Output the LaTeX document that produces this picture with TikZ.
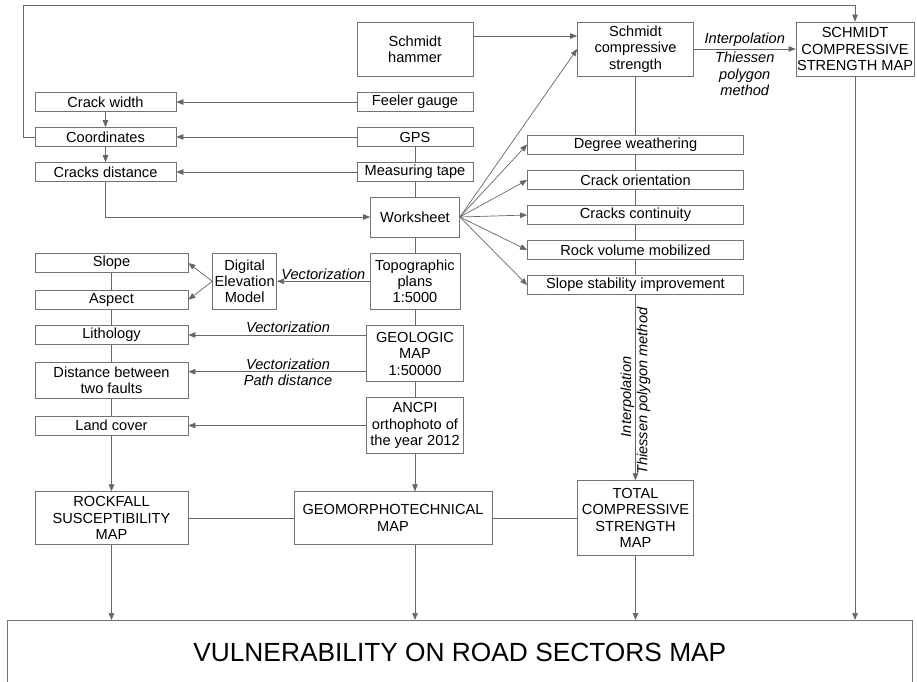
\documentclass[tikz,border=0pt]{standalone}
\usepackage{fontspec}
\setmainfont{Liberation Sans}
\usetikzlibrary{arrows.meta}

\begin{document}
\begin{tikzpicture}[
				x=1pt, y=-1pt,
				font=\fontsize{14.6}{16.3}\selectfont,
				line/.style={draw=black!60, line width=0.7pt},
				arrow/.style={line, -{Triangle[length=7pt, width=5.5pt]}},
				block/.style={draw=black!55, line width=0.7pt, inner sep=1pt, align=center, minimum width=116pt, minimum height=54pt},
				row/.style={block, minimum height=19pt},
				method/.style={font=\fontsize{14.6}{16.3}\selectfont\itshape, inner sep=1pt, align=center},
			]
				\useasboundingbox (0,0) rectangle (917,681);
				\clip (0,0) rectangle (917,681);

				% field measurements
				\node[block] (hammer) at (415,49) {Schmidt\\hammer};
				\node[block] (scs) at (635.5,49) {Schmidt\\compressive\\strength};
				\node[block] (scs map) at (855,49) {SCHMIDT\\COMPRESSIVE\\STRENGTH MAP};
				\node[row] (feeler) at (415,102) {Feeler gauge};
				\node[row] (gps) at (415,137) {GPS};
				\node[row] (tape) at (415,172) {Measuring tape};
				\node[row, minimum width=141pt] (crack width) at (105.5,102) {Crack width};
				\node[row, minimum width=141pt] (coordinates) at (105.5,137) {Coordinates};
				\node[row, minimum width=141pt] (cracks distance) at (105.5,172) {Cracks distance};
				\node[block, minimum width=89pt, minimum height=40pt] (worksheet) at (415,217) {Worksheet};

				\node[row, minimum width=216pt] (weathering) at (635.5,144.5) {Degree weathering};
				\node[row, minimum width=216pt] (orientation) at (635.5,180) {Crack orientation};
				\node[row, minimum width=216pt] (continuity) at (635.5,215) {Cracks continuity};
				\node[row, minimum width=216pt] (volume) at (635.5,250) {Rock volume mobilized};
				\node[row, minimum width=216pt] (stability) at (635.5,285) {Slope stability improvement};

				% maps and plans
				\node[block, minimum width=90pt, minimum height=56pt] (topo) at (415,281.3) {Topographic\\plans\\1:5000};
				\node[block, minimum width=64pt, minimum height=56pt] (dem) at (244.7,281.3) {Digital\\Elevation\\Model};
				\node[block, minimum width=96.6pt, minimum height=56pt] (geologic) at (415,353.7) {GEOLOGIC\\MAP\\1:50000};
				\node[block, minimum width=96.6pt, minimum height=55.6pt] (ancpi) at (415,425.5) {ANCPI\\orthophoto of\\the year 2012};
				\node[row, minimum width=153pt] (slope) at (111.5,263) {Slope};
				\node[row, minimum width=153pt] (aspect) at (111.5,299.7) {Aspect};
				\node[row, minimum width=153pt] (lithology) at (111.5,335) {Lithology};
				\node[block, minimum width=153pt, minimum height=35.6pt] (faults) at (111.5,380.5) {Distance between\\two faults};
				\node[row, minimum width=153pt] (land cover) at (111.5,425.5) {Land cover};

				% results
				\node[block, minimum width=153pt, minimum height=52.6pt] (rockfall) at (111.5,518) {ROCKFALL\\SUSCEPTIBILITY\\MAP};
				\node[block, minimum width=198pt, minimum height=52.6pt] (geomorph) at (393,518) {GEOMORPHOTECHNICAL\\MAP};
				\node[block, minimum width=116pt, minimum height=74.6pt] (total) at (635.5,518) {TOTAL\\COMPRESSIVE\\STRENGTH\\MAP};
				\node[block, anchor=north, minimum width=905pt, minimum height=64pt, font=\fontsize{26.3}{30}\selectfont] (vulnerability) at (459.8,620) {VULNERABILITY ON ROAD SECTORS MAP};

				\draw[arrow] ([yshift=13pt]hammer.east) -- ([yshift=13pt]hammer.east -| scs.west);
				\draw[arrow] (scs.east) -- node[method, above=1pt] {Interpolation} node[method, below=2pt] {Thiessen\\polygon\\method} (scs map.west);
				\draw[arrow] (coordinates.west) -- ++(-11,0) |- ([yshift=16pt]scs map.north) -- (scs map.north);
				\draw[arrow] (feeler) -- (crack width);
				\draw[arrow] (gps) -- (coordinates);
				\draw[arrow] (tape) -- (cracks distance);
				\draw[arrow] (crack width) -- (coordinates);
				\draw[arrow] (coordinates) -- (cracks distance);
				\draw[arrow] (cracks distance.south) |- (worksheet.west);
				\draw[line] (gps) -- (tape);
				\draw[line] (tape) -- (worksheet);

				\draw[arrow] (worksheet.east) -- (scs.west);
				\draw[arrow] (worksheet.east) -- (weathering.west);
				\draw[arrow] (worksheet.east) -- (orientation.west);
				\draw[arrow] (worksheet.east) -- (continuity.west);
				\draw[arrow] (worksheet.east) -- (volume.west);
				\draw[arrow] (worksheet.east) -- (stability.west);
				\draw[line] (scs) -- (weathering);
				\draw[line] (weathering) -- (orientation);
				\draw[line] (orientation) -- (continuity);
				\draw[line] (continuity) -- (volume);
				\draw[line] (volume) -- (stability);
				\draw[arrow] (stability) -- node[method, rotate=90, anchor=south, pos=0.55] {Interpolation} node[method, rotate=90, anchor=north, pos=0.52] {Thiessen polygon method} (total);

				\draw[line] (worksheet) -- (topo);
				\draw[line] (topo) -- (geologic);
				\draw[line] (geologic) -- (ancpi);
				\draw[arrow] (ancpi.south) -- (ancpi.south |- geomorph.north);
				\draw[arrow] (topo) -- node[method, above] {Vectorization} (dem);
				\draw[arrow] (dem.west) -- (slope.east);
				\draw[arrow] (dem.west) -- (aspect.east);
				\draw[arrow] (geologic.west |- lithology.east) -- node[method, above=1pt, pos=0.44] {Vectorization} (lithology.east);
				\coordinate (fault line) at ([yshift=-18pt]geologic.west);
				\draw[arrow] (fault line) -- node[method, above=1pt, pos=0.44] {Vectorization} node[method, below=1.5pt, pos=0.44] {Path distance} (fault line -| faults.east);
				\draw[arrow] (ancpi) -- (land cover);
				\draw[line] (slope) -- (aspect);
				\draw[line] (aspect) -- (lithology);
				\draw[line] (lithology) -- (faults);
				\draw[line] (faults) -- (land cover);
				\draw[arrow] (land cover) -- (rockfall);

				\draw[line] (rockfall) -- (geomorph);
				\draw[line] (geomorph) -- (total);
				\draw[arrow] (rockfall.south) -- (rockfall.south |- vulnerability.north);
				\draw[arrow] (ancpi.south |- geomorph.south) -- (ancpi.south |- vulnerability.north);
				\draw[arrow] (total.south) -- (total.south |- vulnerability.north);
				\draw[arrow] (scs map.south) -- (scs map.south |- vulnerability.north);
			\end{tikzpicture}
\end{document}
